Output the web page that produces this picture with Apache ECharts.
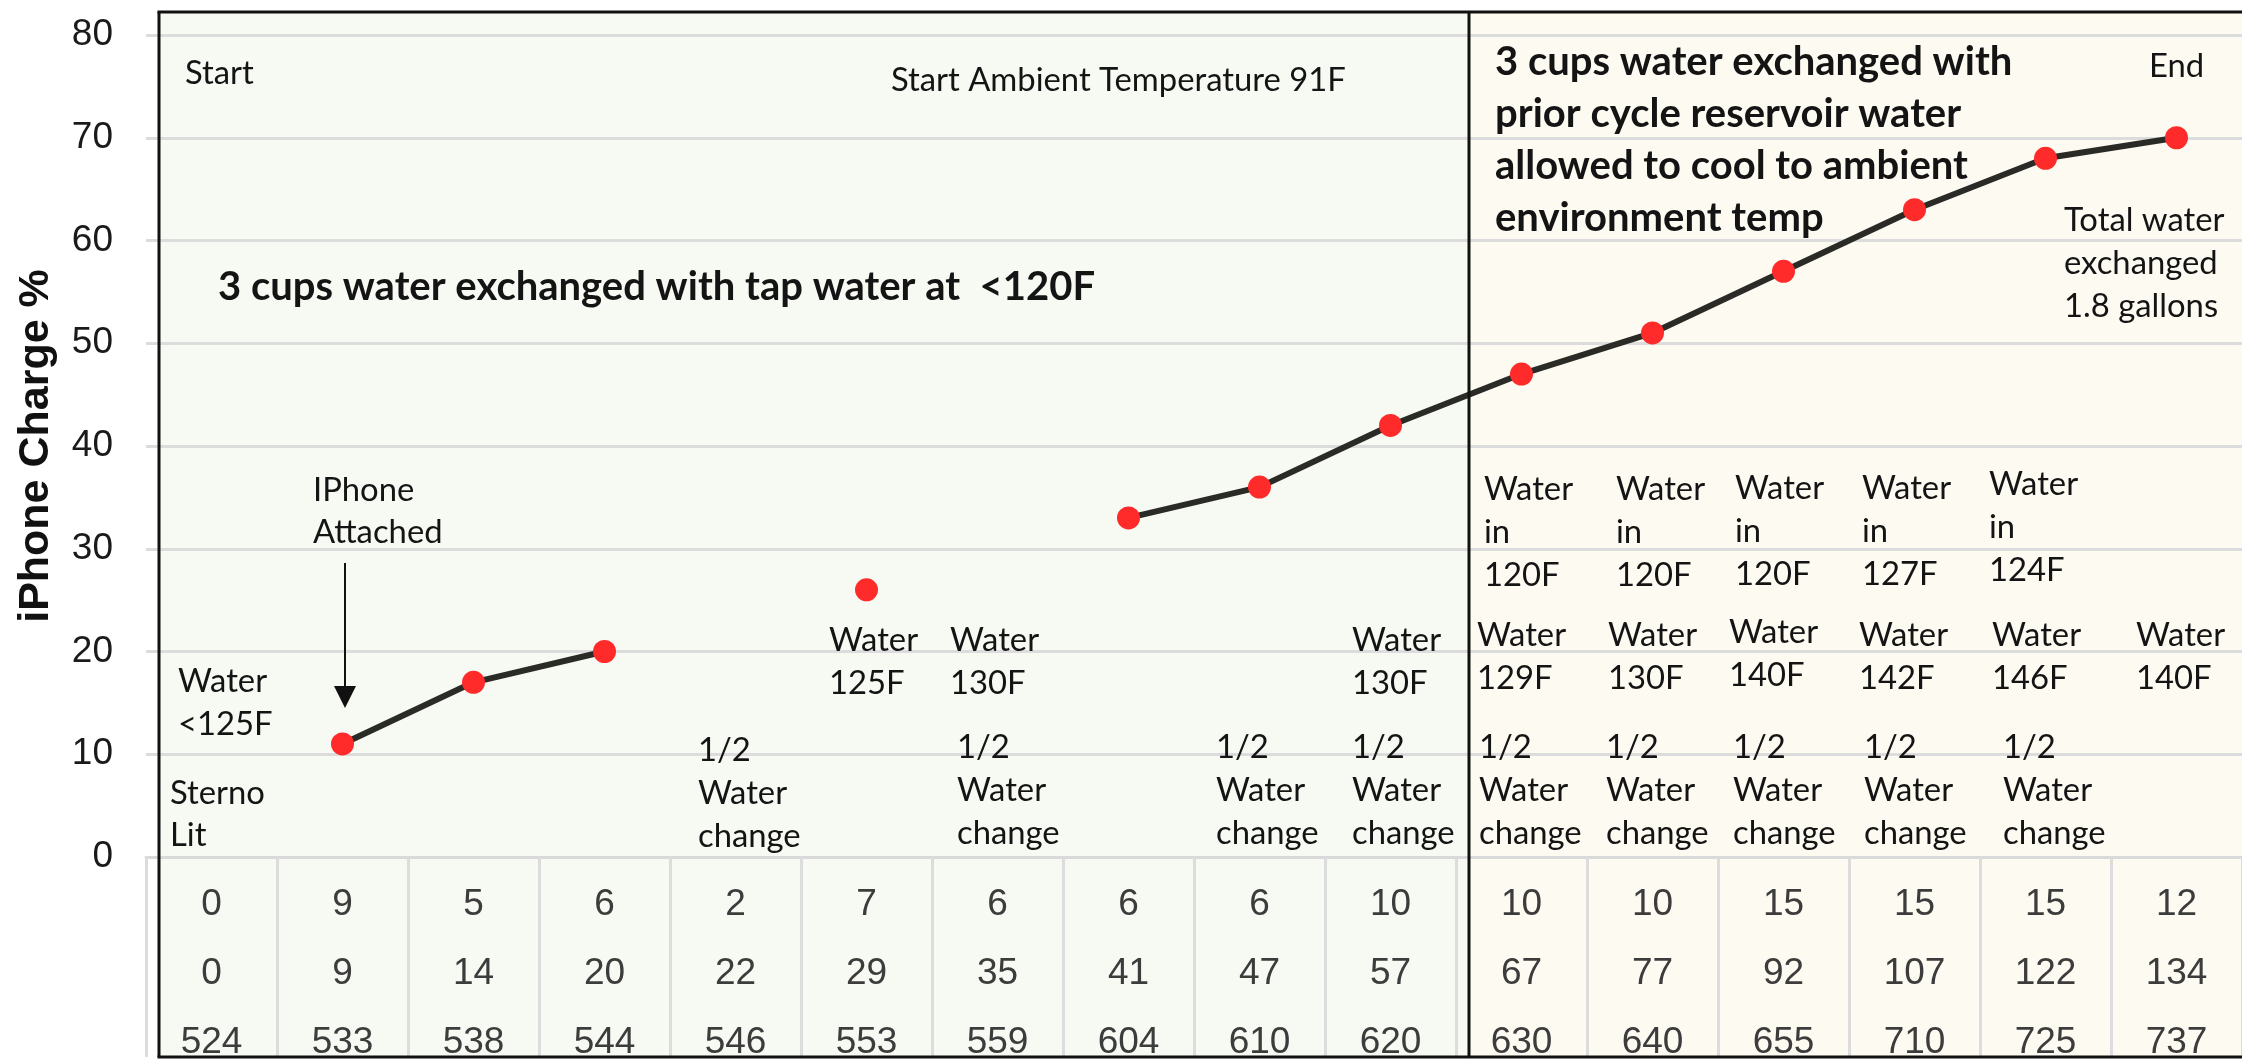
<!DOCTYPE html>
<html>
<head>
<meta charset="utf-8">
<script src="https://cdn.jsdelivr.net/npm/echarts@6/dist/echarts.min.js"></script>
<style>
html,body{margin:0;padding:0;background:#ffffff;}
#chart{width:2242px;height:1059px;}
</style>
</head>
<body>
<div id="chart"></div>
<script>
// ---------------- data ----------------
const minutesStep  = [0, 9, 5, 6, 2, 7, 6, 6, 6, 10, 10, 10, 15, 15, 15, 12];
const minutesTotal = [0, 9, 14, 20, 22, 29, 35, 41, 47, 57, 67, 77, 92, 107, 122, 134];
const clockTime    = [524, 533, 538, 544, 546, 553, 559, 604, 610, 620, 630, 640, 655, 710, 725, 737];
const chargePct    = [null, 11, 17, 20, null, 26, null, 33, 36, 42, 47, 51, 57, 63, 68, 70];
const yTickMin = 0, yTickMax = 80, yTickStep = 10;
const yAxisTitle = 'iPhone Charge %';

// annotation texts
const noteStart    = 'Start';
const noteAmbient  = 'Start Ambient Temperature 91F';
const noteEnd      = 'End';
const noteTotal    = 'Total water\nexchanged\n1.8 gallons';
const noteAttached = 'IPhone\nAttached';
const noteTapBold  = '3 cups water exchanged with tap water at  <120F';
const notePriorBold = '3 cups water exchanged with\nprior cycle reservoir water\nallowed to cool to ambient\nenvironment temp';
const noteHalf     = '1/2\nWater\nchange';
const waterTemps   = ['<125F', '125F', '130F', '130F', '129F', '130F', '140F', '142F', '146F', '140F'];
const waterInTemps = ['120F', '120F', '120F', '127F', '124F'];
const noteSterno   = 'Sterno\nLit';

// ---------------- layout / style ----------------
const FAM = "Lato, 'Open Sans', 'DejaVu Sans', sans-serif";
const ARIAL = "'Liberation Sans', Arial, sans-serif";
function fitSize(text, weight, target) {
  const ctx = document.createElement('canvas').getContext('2d');
  ctx.font = weight + ' 100px ' + FAM;
  const w = ctx.measureText(text).width;
  return w > 0 ? target / w * 100 : 34;
}
const normalSize = fitSize(noteAmbient, 'normal', 455);
const boldSize = fitSize('3 cups water exchanged with', 'bold', 517);

const box = {left: 159, top: 12, bottom: 1057, divider: 1469, right: 2242};

const textEls = [];
function note(text, x, yc, lh, bold) {
  textEls.push({
    type: 'text', z: 50,
    style: {
      text: text, x: x, y: yc - lh / 2,
      font: (bold ? 'bold ' : '') + (bold ? boldSize : normalSize).toFixed(1) + 'px ' + FAM,
      fill: '#141414', lineHeight: lh, align: 'left', verticalAlign: 'top'
    }
  });
}
note(noteStart, 185, 73, 43);
note(noteAmbient, 891, 80, 43);
note(noteEnd, 2149, 66, 43);
note(noteTotal, 2064, 220, 43);
note(noteAttached, 313, 490, 42);
note(noteSterno, 170, 793, 42);
note('Water\n' + waterTemps[0], 178, 681, 43);
note(noteHalf, 698, 750, 43);
note('Water\n' + waterTemps[1], 829, 640, 43);
note('Water\n' + waterTemps[2], 950, 640, 43);
note(noteHalf, 957, 747, 43);
note(noteHalf, 1216, 747, 43);
note('Water\n' + waterTemps[3], 1352, 640, 43);
note(noteHalf, 1352, 747, 43);
const inX = [1484, 1616, 1735, 1862, 1989];
const inY = [489, 489, 488, 488, 484];
waterInTemps.forEach((t, i) => note('Water\nin\n' + t, inX[i], inY[i], 43));
const wX = [1477, 1608, 1729, 1859, 1992, 2136];
const wY = [635, 635, 632, 635, 635, 635];
waterTemps.slice(4).forEach((t, i) => note('Water\n' + t, wX[i], wY[i], 43));
const hX = [1479, 1606, 1733, 1864, 2003];
hX.forEach(x => note(noteHalf, x, 747, 43));
note(noteTapBold, 218, 287, 52, true);
note(notePriorBold, 1495, 62, 52, true);

const graphics = [
  {type: 'rect', z: -10, silent: true,
   shape: {x: box.left, y: box.top, width: box.divider - box.left, height: box.bottom - box.top},
   style: {fill: '#f7f9f3'}},
  {type: 'rect', z: -10, silent: true,
   shape: {x: box.divider, y: box.top, width: box.right - box.divider, height: box.bottom - box.top},
   style: {fill: '#fdfaf1'}},
  {type: 'line', z: 100, shape: {x1: box.left - 1.5, y1: box.top, x2: box.right, y2: box.top}, style: {stroke: '#111', lineWidth: 3}},
  {type: 'line', z: 100, shape: {x1: box.left, y1: box.top, x2: box.left, y2: box.bottom}, style: {stroke: '#111', lineWidth: 3}},
  {type: 'line', z: 100, shape: {x1: box.left - 1.5, y1: box.bottom, x2: box.right, y2: box.bottom}, style: {stroke: '#111', lineWidth: 3}},
  {type: 'line', z: 100, shape: {x1: box.divider, y1: box.top, x2: box.divider, y2: box.bottom}, style: {stroke: '#111', lineWidth: 3}},
  // arrow for "IPhone Attached"
  {type: 'line', z: 60, shape: {x1: 345, y1: 563, x2: 345, y2: 690}, style: {stroke: '#111', lineWidth: 2}},
  {type: 'polygon', z: 60, shape: {points: [[334, 686], [356, 686], [345, 708]]}, style: {fill: '#111'}}
].concat(textEls);

const chart = echarts.init(document.getElementById('chart'), null, {renderer: 'canvas'});
chart.setOption({
  animation: false,
  backgroundColor: '#ffffff',
  grid: {left: 146, right: 0, top: 35, bottom: 202, containLabel: false, outerBoundsMode: 'none'},
  xAxis: {
    type: 'category',
    data: clockTime.map(String),
    boundaryGap: true,
    axisLine: {show: true, lineStyle: {color: '#d9d9d9', width: 3}},
    axisTick: {show: true, interval: 0, alignWithLabel: false, length: 200, lineStyle: {color: '#dcdcdc', width: 3}},
    axisLabel: {
      interval: 0, margin: 13, fontSize: 37, lineHeight: 69, color: '#3c3c3c', fontFamily: ARIAL,
      formatter: function (v, i) { return minutesStep[i] + '\n' + minutesTotal[i] + '\n' + clockTime[i]; }
    },
    splitLine: {show: false}
  },
  yAxis: {
    type: 'value', min: yTickMin, max: yTickMax, interval: yTickStep,
    axisLine: {show: false}, axisTick: {show: false},
    splitLine: {show: true, lineStyle: {color: '#dcdcdc', width: 3}},
    axisLabel: {fontSize: 37, color: '#1a1a1a', margin: 33, fontFamily: ARIAL},
    name: yAxisTitle, nameLocation: 'middle', nameRotate: 90, nameGap: 88,
    nameTextStyle: {fontSize: 43, fontWeight: 'bold', color: '#111', fontFamily: ARIAL}
  },
  series: [{
    type: 'line',
    data: chargePct,
    connectNulls: false,
    symbol: 'circle', symbolSize: 23, showSymbol: true, showAllSymbol: true,
    itemStyle: {color: '#ff2b2b', borderWidth: 0},
    lineStyle: {color: '#2a2a26', width: 6},
    emphasis: {disabled: true},
    z: 5
  }],
  graphic: graphics
});
</script>
</body>
</html>
